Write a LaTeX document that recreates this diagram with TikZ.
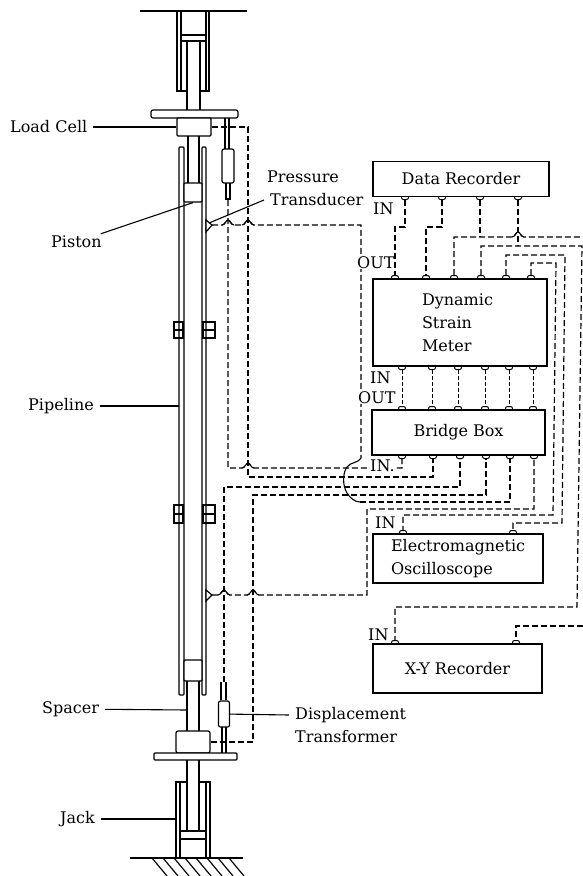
\documentclass[tikz,border=0pt]{standalone}
\usepackage{tikz}
\usepackage{fontspec}
\setmainfont{DejaVu Serif}

\newcommand{\hopx}[2]{-- (#1-6,#2) .. controls (#1-3,#2) and (#1-2,#2-5) .. (#1,#2-5) .. controls (#1+2,#2-5) and (#1+3,#2) .. (#1+6,#2)}
\newcommand{\hoparc}[2]{\draw[line width=1.1pt] (#1-6,#2) .. controls (#1-3,#2) and (#1-2,#2-5) .. (#1,#2-5) .. controls (#1+2,#2-5) and (#1+3,#2) .. (#1+6,#2);}

\begin{document}
\begin{tikzpicture}
 [x=1pt, y=-1pt,
  part/.style={line width=1.2pt, black},
  part node/.style={draw, line width=1.2pt, fill=white, inner sep=0pt, rounded corners=1pt},
  box node/.style={draw, line width=1.3pt, inner sep=0pt, fill=white, font=\fontsize{16}{23}\selectfont},
  terminal node/.style={draw, line width=1pt, fill=white, inner sep=0pt, rounded corners=2pt, minimum width=7pt, minimum height=7pt},
  name node/.style={font=\fontsize{16}{23}\selectfont, anchor=west, inner ysep=2pt, inner xsep=6pt},
  tag node/.style={font=\fontsize{16}{23}\selectfont, anchor=west, inner sep=0pt, fill=white},
  wire/.style={line width=1.2pt, dash pattern=on 6pt off 3pt},
  link/.style={line width=1pt, dash pattern=on 4pt off 2pt},
  leader/.style={line width=1.1pt}]

\useasboundingbox (0,0) rectangle (583,876);

\draw[part] (140,11) -- (247,11);
\draw[part] (177,11) -- (177,91) -- (187,91);
\draw[part] (209,11) -- (209,91) -- (200,91);
\draw[part] (181,11) -- (181,91);
\draw[part] (206,11) -- (206,91);
\draw[part] (181,35) -- (206,35) (181,41) -- (206,41);
\draw[part] (187,41) -- (187,110) (200,41) -- (200,110);
\node[part node, rounded corners=2pt, minimum width=87pt, minimum height=8pt] (upperplate) at (194.5,114) {};
\node[part node, minimum width=34pt, minimum height=18pt] (loadcell) at (194,127) {};
\draw[part] (188,136) -- (188,183) (199,136) -- (199,183);

\node[part node, minimum width=5pt, minimum height=548pt] (leftwall) at (181.5,421) {};
\node[part node, minimum width=4pt, minimum height=548pt] (rightwall) at (204,421) {};
\node[part node, minimum width=18pt, minimum height=19pt] (piston) at (193,192.5) {};
\node[part node, minimum width=18pt, minimum height=21pt] (lowerblock) at (193,670.5) {};
\draw[part] (174,322) rectangle (183,338) (174,330) -- (183,330);
\draw[part] (203,322) rectangle (215,338) (203,330) -- (215,330);
\draw[part] (174,505) rectangle (183,523) (174,514) -- (183,514);
\draw[part] (203,505) rectangle (215,523) (203,514) -- (215,514);

\draw[part] (225,118) -- (225,150) (229,118) -- (229,150);
\node[part node, rounded corners=2pt, minimum width=12pt, minimum height=34pt] (uppertrans) at (228,166) {};
\draw[part] (226,183) -- (226,199) -- (230,199) -- (230,183);
\coordinate (upperprobe) at (228,200);

\coordinate (uppergauge) at (212,225);
\draw[part, fill=white] (206,220) -- (uppergauge) -- (206,232) -- cycle;
\coordinate (lowergauge) at (212,595);
\draw[part, fill=white] (206,590) -- (lowergauge) -- (206,601) -- cycle;

\draw[part] (187,681) -- (187,731) (199,681) -- (199,731);
\coordinate (spacer) at (187,710);
\coordinate (pipewall) at (179,406);
\draw[part] (221,682) -- (221,700) (226,682) -- (226,700);
\coordinate (lowerprobe) at (224,682);
\node[part node, rounded corners=2pt, minimum width=11pt, minimum height=26pt] (lowertrans) at (224,714) {};
\draw[part] (222,727) -- (222,753) (226,727) -- (226,753);
\node[part node, rounded corners=2pt, minimum width=34pt, minimum height=22pt] (lowerload) at (193,742) {};
\node[part node, minimum width=83pt, minimum height=7pt] (lowerplate) at (195.5,756.5) {};
\draw[part] (187,760) -- (187,831) (199,760) -- (199,831);
\draw[part] (176,858) -- (176,782) -- (187,782) (210,858) -- (210,782) -- (199,782);
\draw[part] (180,858) -- (180,782) (206,858) -- (206,782);
\draw[part] (180,831) -- (206,831) (180,839) -- (206,839);
\coordinate (jack) at (176,819);
\draw[part] (130,858) -- (243,858);
\draw[part] (152,858) -- (167,876) (163,858) -- (178,876) (174,858) -- (189,876) (185,858) -- (200,876)
  (196,858) -- (211,876) (207,858) -- (222,876) (218,858) -- (233,876) (229,858) -- (244,876);

\node[terminal node] (r1) at (405,196) {};
\node[terminal node] (r2) at (442,196) {};
\node[terminal node] (r3) at (480,196) {};
\node[terminal node] (r4) at (518,196) {};
\node[terminal node] (a1) at (395,279) {};
\node[terminal node] (a2) at (426,279) {};
\node[terminal node] (a3) at (454,279) {};
\node[terminal node] (a4) at (481,279) {};
\node[terminal node] (a5) at (506,279) {};
\node[terminal node] (a6) at (531,279) {};
\node[terminal node] (b1) at (402,366) {};
\node[terminal node] (b2) at (432,366) {};
\node[terminal node] (b3) at (458,366) {};
\node[terminal node] (b4) at (485,366) {};
\node[terminal node] (b5) at (509,366) {};
\node[terminal node] (b6) at (533,366) {};
\node[terminal node] (c1) at (402,410) {};
\node[terminal node] (c2) at (432,410) {};
\node[terminal node] (c3) at (458,410) {};
\node[terminal node] (c4) at (485,410) {};
\node[terminal node] (c5) at (509,410) {};
\node[terminal node] (c6) at (533,410) {};
\node[terminal node] (d1) at (402,455) {};
\node[terminal node] (d2) at (433,455) {};
\node[terminal node] (d3) at (460,455) {};
\node[terminal node] (d4) at (486,455) {};
\node[terminal node] (d5) at (510,455) {};
\node[terminal node] (d6) at (534,455) {};
\node[terminal node] (e1) at (403,534) {};
\node[terminal node] (e2) at (513,534) {};
\node[terminal node] (x1) at (395,644) {};
\node[terminal node] (x2) at (516,644) {};
\coordinate (upperedge) at (583,237);
\coordinate (loweredge) at (583,626);

\node[box node, minimum width=176pt, minimum height=35pt] (recorder) at (461,179) {Data Recorder};
\node[box node, align=left, text width=76pt, inner xsep=49pt, minimum height=87pt] (strain) at (460,322.5) {Dynamic\\Strain\\Meter};
\node[box node, minimum width=173pt, minimum height=45pt] (bridge) at (458.5,432.5) {Bridge Box};
\node[box node, align=left, text width=134pt, inner xsep=18pt, minimum height=49pt] (scope) at (458,558.5) {Electromagnetic\\Oscilloscope};
\node[box node, minimum width=169pt, minimum height=49pt] (plotter) at (457.5,668.5) {X-Y Recorder};

\path
  (b1) edge [link] (c1)
  (b2) edge [link] (c2)
  (b3) edge [link] (c3)
  (b4) edge [link] (c4)
  (b5) edge [link] (c5)
  (b6) edge [link] (c6);

\draw[wire] (r1) -- (405,227) -- (395,227) -- (a1);
\draw[wire] (r2) -- (442,227) -- (426,227) -- (a2);
\draw[wire] (r3) -- (480,237);
\draw[wire] (a3) -- (454,237) \hopx{518}{237} -- (upperedge);
\draw[wire] (loweredge) -- (516,626) -- (x2);
\draw[wire] (r4) -- (518,246);
\draw[wire] (a4) -- (481,246) -- (582,246) -- (577,607) -- (395,607) -- (x1);
\draw[wire] (a5) -- (506,255) -- (565,255) -- (562,523) -- (513,523) -- (e2);
\draw[wire] (a6) -- (531,263) -- (556,263) -- (553,515) -- (403,515) -- (e1);

\draw[wire] (upperprobe) -- (228,468) \hopx{248}{468} -- (402,468) -- (d1);
\draw[wire] (loadcell.east) -- (248,127) -- (248,477) -- (433,477) -- (d2);
\draw[wire] (lowerprobe) -- (224,487) -- (460,487) -- (d3);
\draw[wire] (lowerload.east) -- (253,742) -- (253,495) -- (486,495) -- (d4);
\draw[wire] (uppergauge) \hopx{228}{225} \hopx{248}{225} -- (361,225) -- (361,458);
\draw[line width=1.1pt] (361,458)
  .. controls (359,463) and (350,462) .. (347,467) .. controls (343,472) and (342,485) .. (347,493)
  .. controls (350,498) and (355,502) .. (360,502);
\draw[wire] (360,502) -- (510,502) -- (d5);
\draw[wire] (lowergauge) \hopx{224}{595} \hopx{253}{595} -- (367,595) -- (367,509) -- (534,509) -- (d6);
\hoparc{518}{237}
\hoparc{248}{468}
\hoparc{228}{225}
\hoparc{248}{225}
\hoparc{224}{595}
\hoparc{253}{595}

\node[tag node] (inrecorder) at (373,209) {IN};
\node[tag node] (outstrain) at (357,263) {OUT};
\node[tag node] (instrain) at (370,378) {IN};
\node[tag node] (outbridge) at (358,398) {OUT};
\node[tag node] (inbridge) at (370,466) {IN.};
\node[tag node] (inscope) at (375,523) {IN};
\node[tag node] (inplotter) at (368,635) {IN};

\node[name node] (cellname) at (4,127) {Load Cell};
\node[name node] (pistonname) at (45,242) {Piston};
\node[name node] (pressname) at (261,177) {Pressure};
\node[name node] (ducername) at (264,200) {Transducer};
\node[name node] (pipename) at (22,406) {Pipeline};
\node[name node] (spacername) at (36,709) {Spacer};
\node[name node] (jackname) at (54,819) {Jack};
\node[name node] (dispname) at (289,715) {Displacement};
\node[name node] (transname) at (289,737) {Transformer};

\path
  (cellname) edge [leader] (loadcell)
  (pistonname) edge [leader] (piston.south)
  (ducername.west) edge [leader] (209,223)
  (pipename) edge [leader] (pipewall)
  (spacername) edge [leader] (spacer)
  (jackname) edge [leader] (jack)
  (dispname.west) edge [leader] (lowertrans);

\end{tikzpicture}
\end{document}
